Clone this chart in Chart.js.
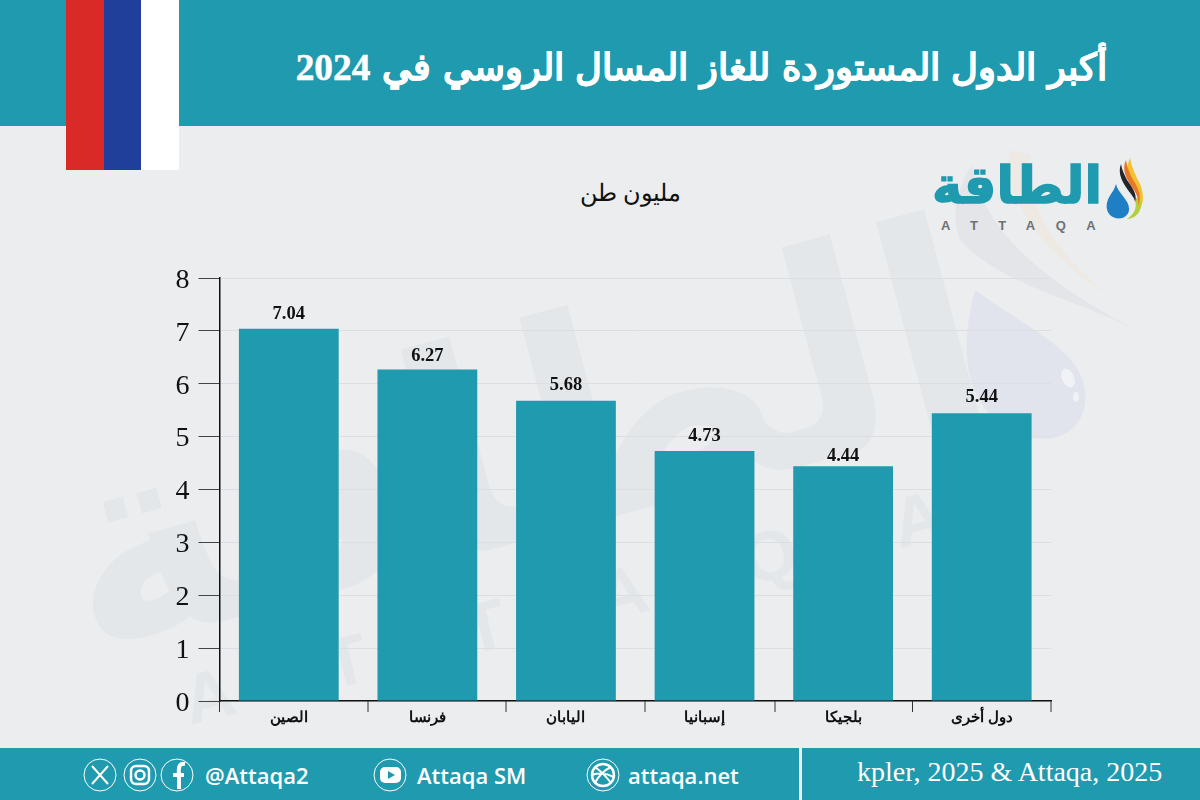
<!DOCTYPE html>
<html lang="ar">
<head>
<meta charset="utf-8">
<title>أكبر الدول المستوردة للغاز المسال الروسي في 2024</title>
<script src="https://cdn.jsdelivr.net/npm/chart.js@4"></script>
<style>
  html, body { margin: 0; padding: 0; }
  #page { position: relative; width: 1200px; height: 800px; overflow: hidden; background: #ebedef; font-family: "Liberation Serif", serif; }
  #page > * { position: absolute; }
  #wm, #chart { left: 0; top: 0; }
  #chart { width: 1200px; height: 800px; }
  #header { left: 0; top: 0; width: 1200px; height: 126px; background: #1f9aae; }
  #title { right: 93px; top: 42px; color: #fff; font-weight: bold; font-size: 37.4px; word-spacing: 2.3px; line-height: 52px; white-space: nowrap; direction: rtl; -webkit-text-stroke: 0.5px #fff; }
  .flag { top: 0; height: 170px; width: 38px; }
  #unit { left: 480px; width: 300px; top: 178px; text-align: center; font-size: 24px; line-height: 30px; color: #111; direction: rtl; }
  #logo { left: 925px; top: 152px; width: 184px; text-align: center; color: #1f9aae; font-family: "DejaVu Sans", sans-serif; font-weight: bold; font-size: 51px; line-height: 68px; direction: rtl; -webkit-text-stroke: 1.5px #1f9aae; }
  #logoEn { left: 941px; top: 219px; color: #6d7275; font-family: "Liberation Sans", sans-serif; font-weight: bold; font-size: 13px; letter-spacing: 20.5px; line-height: 14px; }
  #footer { left: 0; top: 748px; width: 1200px; height: 52px; background: #1f9aae; }
  #divider { left: 799px; top: 748px; width: 3px; height: 52px; background: #ebedef; }
  #source { left: 857px; top: 756px; color: #fff; font-size: 28px; line-height: 32px; white-space: nowrap; }
  .handle { top: 760px; color: #fff; font-family: "Open Sans", sans-serif; font-weight: 600; font-size: 22px; line-height: 30px; white-space: nowrap; }
</style>
</head>
<body>
<div id="page">
  <svg id="wm" width="1200" height="800" viewBox="0 0 1200 800">
    <path d="M975 290 C962 340 958 400 1010 430 C1050 452 1090 432 1085 390 C1080 350 1030 330 975 290 Z" fill="#e1e4ec"/>
    <ellipse cx="1068" cy="378" rx="6" ry="10" fill="#f0f2f5" transform="rotate(-25 1068 378)"/>
    <ellipse cx="1076" cy="397" rx="3" ry="5" fill="#f0f2f5"/>
    <path d="M972 165 C985 240 1060 290 1140 332 C1080 300 1000 285 960 240 C950 215 958 185 972 165 Z" fill="#e3e5e8"/>
    <path d="M1010 150 C1000 200 1050 260 1115 300 C1060 260 1020 200 1030 155 Z" fill="#eee9e3"/>
    <g fill="#e4e7e9" font-weight="bold">
      <text x="545" y="535" font-size="285" transform="rotate(-15 545 535)" text-anchor="middle" direction="rtl" font-family="DejaVu Sans">الطاقة</text>
      <text x="190" y="725" font-size="70" letter-spacing="100" transform="rotate(-14 190 725)" font-family="Liberation Sans">ATTAQA</text>
    </g>
  </svg>

  <div id="header"></div>
  <div class="flag" style="left:66px;background:#d92a27"></div>
  <div class="flag" style="left:104px;background:#1f3f9b"></div>
  <div class="flag" style="left:141px;background:#fff"></div>
  <div id="title">أكبر الدول المستوردة للغاز المسال الروسي في 2024</div>
  <div id="unit">مليون طن</div>

  <div id="logo">الطاقة</div>
  <div id="logoEn">ATTAQA</div>
  <svg style="left:1105px;top:156px" width="40" height="70" viewBox="0 0 40 70">
    <path d="M25 2 C20 12 24 22 31 32 C37 42 35 54 24 62 C40 56 40 40 35 28 C30 18 27 12 25 2Z" fill="#f2c230"/>
    <path d="M29 42 C33 50 30 58 22 63 C34 62 38 52 35 42Z" fill="#b5cf3c"/>
    <path d="M21 4 C16 14 22 24 29 34 C33 40 34 46 33 50 C38 40 32 30 27 22 C24 16 22 10 21 4Z" fill="#e8772a"/>
    <path d="M16 8 C12 18 18 28 26 38 C29 42 30 44 30 46 C33 38 26 30 22 24 C19 18 17 14 16 8Z" fill="#23262a"/>
    <path d="M11 28 C13 38 25 44 24 54 C23 63 11 65 5 59 C-1 52 2 44 6 38 C8 35 10 32 11 28Z" fill="#1f7fc4"/>
  </svg>

  <canvas id="chart" width="1200" height="800"></canvas>

  <div id="footer"></div>
  <div id="divider"></div>
  <svg style="left:0;top:748px" width="800" height="52" viewBox="0 0 800 52" fill="none" stroke="#fff">
    <circle cx="100" cy="27" r="16"/>
    <path d="M92 18 L108 36 M108 18 L92 36" stroke-width="2"/>
    <circle cx="140" cy="27" r="16"/>
    <rect x="131" y="18" width="18" height="18" rx="5" stroke-width="2.5"/>
    <circle cx="140" cy="27" r="4.5" stroke-width="2.5"/>
    <circle cx="177" cy="27" r="16"/>
    <path d="M179 41 V24 M173 27 H184 M179 27 C178 18 180 15 185 16" stroke-width="4"/>
    <circle cx="390" cy="27" r="16"/>
    <rect x="380" y="19" width="21" height="16" rx="5" fill="#fff" stroke="none"/>
    <path d="M388 23 L395 27 L388 31Z" fill="#1f9aae" stroke="none"/>
    <circle cx="603" cy="27" r="16"/>
    <circle cx="603" cy="27" r="11" stroke-width="2.5"/>
    <path d="M595 19 C602 24 608 31 611 35 M611 19 C604 22 597 30 595 35 M592 27 C598 25 606 25 614 29" stroke-width="2"/>
  </svg>
  <div class="handle" style="left:205px">@Attaqa2</div>
  <div class="handle" style="left:417px">Attaqa SM</div>
  <div class="handle" style="left:628px">attaqa.net</div>
  <div id="source">kpler, 2025 &amp; Attaqa, 2025</div>
</div>

<script>
const categories = ['الصين', 'فرنسا', 'اليابان', 'إسبانيا', 'بلجيكا', 'دول أخرى'];
const imports = [7.04, 6.27, 5.68, 4.73, 4.44, 5.44];
const yTicks = [0, 1, 2, 3, 4, 5, 6, 7, 8];

const TEAL = '#1f9aae';

// value labels above the bars, the original has them hand placed so a few sit lower
const barLabels = {
  id: 'barLabels',
  afterDatasetsDraw(chart) {
    const { ctx } = chart;
    const nudge = [0, 1, -1, 0, 4, -2];
    ctx.save();
    ctx.font = 'bold 18.5px "Liberation Serif"';
    ctx.fillStyle = '#111';
    ctx.textAlign = 'center';
    ctx.textBaseline = 'bottom';
    chart.getDatasetMeta(0).data.forEach((bar, i) => {
      ctx.fillText(imports[i].toFixed(2), bar.x, bar.y - 5 + nudge[i]);
    });
    ctx.restore();
  }
};

// the category ticks in the original are not evenly spaced
const xTickMarks = {
  id: 'xTickMarks',
  afterDraw(chart) {
    const { ctx, chartArea } = chart;
    const marks = [219.5, 368, 506, 645, 775, 912.5, 1051];
    ctx.save();
    ctx.strokeStyle = '#333';
    ctx.lineWidth = 1;
    ctx.beginPath();
    marks.forEach(x => {
      ctx.moveTo(x, chartArea.bottom);
      ctx.lineTo(x, chartArea.bottom + 11);
    });
    ctx.stroke();
    ctx.restore();
  }
};

const ctx = document.getElementById('chart').getContext('2d');
const chart = new Chart(ctx, {
  type: 'bar',
  data: {
    labels: categories,
    datasets: [{
      data: imports,
      backgroundColor: TEAL,
      barPercentage: 0.72,
      categoryPercentage: 1
    }]
  },
  plugins: [barLabels, xTickMarks],
  options: {
    responsive: false,
    animation: false,
    layout: { padding: { top: 278, right: 149, left: 0, bottom: 0 } },
    plugins: { legend: { display: false }, tooltip: { enabled: false } },
    scales: {
      x: {
        afterFit(scale) { scale.height = 99; },
        border: { color: '#111', width: 1.5 },
        grid: { drawOnChartArea: false, drawTicks: false },
        ticks: {
          color: '#111',
          padding: 8,
          maxRotation: 0,
          font: { family: '"Liberation Sans"', weight: 'bold', size: 15 }
        }
      },
      y: {
        min: 0,
        max: 8,
        afterFit(scale) { scale.width = 219.5; },
        afterBuildTicks(scale) { scale.ticks = yTicks.map(v => ({ value: v })); },
        border: { color: '#111', width: 1.5 },
        grid: { color: '#dcdee1', tickLength: 21, tickColor: '#444', lineWidth: 1 },
        ticks: {
          color: '#111',
          padding: 9,
          labelOffset: 2.5,
          font: { family: '"Liberation Serif"', size: 28 }
        }
      }
    }
  }
});
</script>
</body>
</html>
